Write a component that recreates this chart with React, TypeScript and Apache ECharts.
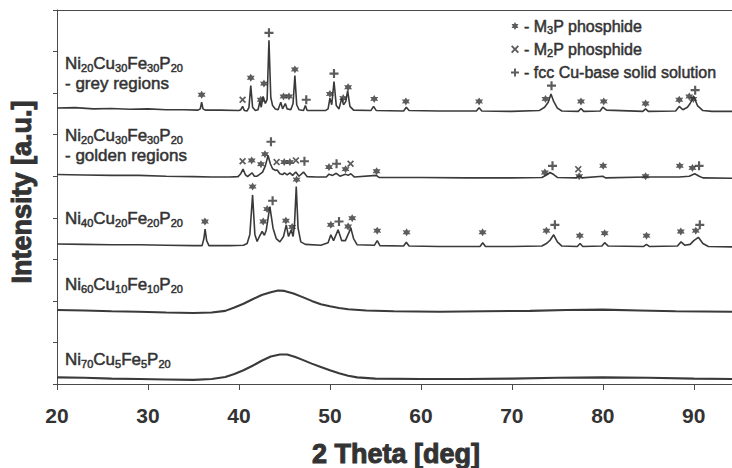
import React, { useEffect, useRef } from "react";
import * as echarts from "echarts";

// ---------- data (2θ in degrees, intensity in stacked a.u.) ----------
const xTickValues = [20, 30, 40, 50, 60, 70, 80, 90];

const greyTrace: number[][] = [
  [20, 6.64], [22, 6.65], [24, 6.62], [26, 6.63], [28, 6.61], [30, 6.62], [32, 6.6], [34, 6.6], [35.5, 6.59],
  [35.75, 6.62], [35.9, 6.78], [36.05, 6.62], [36.3, 6.59],
  [38, 6.59], [40, 6.58], [40.2, 6.6], [40.4, 6.68], [40.6, 6.58], [40.9, 6.57],
  [41.1, 6.65], [41.3, 7.18], [41.5, 6.66], [41.8, 6.58], [42.1, 6.6],
  [42.3, 6.8], [42.45, 6.66], [42.65, 6.92], [42.9, 6.75], [43.1, 6.85], [43.3, 8.27], [43.5, 6.9], [43.7, 6.7], [44.0, 6.62],
  [44.3, 6.6], [44.6, 6.78], [44.8, 6.62], [45.1, 6.75], [45.3, 6.62], [45.7, 6.6], [45.95, 6.75], [46.15, 7.42], [46.35, 6.72], [46.6, 6.6],
  [47.1, 6.58], [47.3, 6.7], [47.5, 6.58], [49.5, 6.58], [49.8, 6.62], [50.0, 6.88], [50.2, 6.72], [50.45, 7.28], [50.7, 6.7],
  [51.0, 6.62], [51.3, 6.88], [51.5, 6.72], [51.75, 6.8], [51.95, 7.06], [52.2, 6.68], [52.6, 6.59],
  [54.5, 6.58], [54.8, 6.68], [55.1, 6.58], [58.1, 6.57], [58.4, 6.66], [58.7, 6.58], [62, 6.57], [66.1, 6.57], [66.4, 6.65], [66.7, 6.57],
  [70, 6.56], [73, 6.58], [73.6, 6.66], [74.0, 6.78], [74.3, 6.98], [74.6, 6.8], [75.0, 6.64], [75.5, 6.57],
  [77.3, 6.56], [77.6, 6.63], [77.9, 6.56], [79.7, 6.57], [80.0, 6.66], [80.4, 6.59], [84.4, 6.56], [84.7, 6.62], [85, 6.56],
  [88, 6.57], [88.4, 6.68], [88.8, 6.6], [89.3, 6.66], [89.6, 6.75], [90.0, 6.92], [90.4, 6.7], [91, 6.58], [92, 6.56], [94.2, 6.56],
];

const goldenTrace: number[][] = [
  [20, 5.04], [23, 5.03], [26, 5.02], [29, 5.02], [32, 5.0], [35, 4.99], [37, 4.98], [39, 4.98], [39.9, 4.99],
  [40.2, 5.06], [40.45, 5.17], [40.7, 5.04], [40.95, 4.99], [41.2, 5.04], [41.45, 5.08], [41.7, 5.0], [42.0, 5.0],
  [42.3, 5.05], [42.6, 5.1], [42.9, 5.25], [43.2, 5.5], [43.45, 5.3], [43.7, 5.18], [44.0, 5.14], [44.2, 5.15],
  [44.5, 5.06], [44.8, 5.04], [45.0, 5.08], [45.3, 5.03], [45.6, 5.08], [45.9, 5.02], [46.25, 5.1], [46.6, 5.0],
  [47.1, 5.1], [47.5, 4.99], [48.5, 4.98], [49.6, 4.98], [49.9, 5.05], [50.3, 5.02], [50.7, 5.07], [51.1, 5.0],
  [51.7, 5.05], [52.0, 5.02], [52.3, 5.06], [52.7, 4.98], [55.1, 5.02], [55.4, 4.97], [60, 4.97], [65, 4.96],
  [70, 4.96], [73.3, 4.97], [73.8, 5.03], [74.2, 5.09], [74.6, 5.04], [75.0, 4.97], [77.1, 4.96], [77.4, 5.01],
  [77.7, 4.96], [80, 5.0], [80.3, 4.96], [84.7, 4.98], [88.4, 4.98], [89.5, 5.0], [90.1, 5.06], [90.6, 5.0],
  [91, 4.96], [94.2, 4.95],
];

const ni40Trace: number[][] = [
  [20, 3.37], [23, 3.36], [26, 3.35], [29, 3.35], [32, 3.34], [35, 3.33], [35.95, 3.33], [36.15, 3.5], [36.28, 3.73],
  [36.45, 3.45], [36.7, 3.33], [39, 3.33], [40.5, 3.34], [40.9, 3.38], [41.2, 3.6], [41.5, 4.55], [41.75, 3.6],
  [42.0, 3.43], [42.25, 3.55], [42.55, 3.67], [42.8, 3.58], [43.0, 3.7], [43.4, 4.27], [43.75, 3.75], [44.1, 3.5],
  [44.5, 3.42], [44.9, 3.55], [45.2, 3.83], [45.45, 3.55], [45.75, 3.71], [45.95, 3.55], [46.1, 3.8], [46.3, 4.75],
  [46.5, 3.75], [46.8, 3.42], [47.3, 3.36], [49.0, 3.34], [49.8, 3.4], [50.1, 3.59], [50.4, 3.45], [50.9, 3.71],
  [51.3, 3.45], [51.7, 3.45], [52.0, 3.6], [52.3, 3.75], [52.6, 3.5], [53.0, 3.35], [54.9, 3.34], [55.2, 3.45],
  [55.5, 3.33], [58.1, 3.32], [58.4, 3.41], [58.7, 3.32], [62, 3.31], [66.5, 3.31], [66.8, 3.4], [67.1, 3.31],
  [70, 3.31], [73.3, 3.32], [73.8, 3.38], [74.2, 3.46], [74.6, 3.59], [75.0, 3.42], [75.5, 3.32], [77.2, 3.31],
  [77.5, 3.38], [77.8, 3.31], [79.9, 3.32], [80.2, 3.4], [80.6, 3.32], [84.5, 3.31], [84.8, 3.36], [85.1, 3.31],
  [88.2, 3.32], [88.6, 3.42], [89.0, 3.34], [89.6, 3.36], [90.0, 3.45], [90.5, 3.53], [91.0, 3.38], [91.6, 3.31],
  [94.2, 3.3],
];

const ni60Trace: number[][] = [
  [20, 1.78], [23, 1.77], [26, 1.75], [29, 1.74], [32, 1.72], [35, 1.71], [37, 1.72], [38.5, 1.76], [39.5, 1.84],
  [40.5, 1.93], [41.5, 2.04], [42.5, 2.14], [43.5, 2.21], [44.3, 2.25], [45, 2.24], [46, 2.18], [47, 2.09],
  [48, 2.0], [49, 1.92], [50, 1.87], [51, 1.83], [52, 1.8], [54, 1.77], [57, 1.75], [62, 1.74], [67, 1.75],
  [72, 1.76], [76, 1.78], [80, 1.79], [84, 1.77], [88, 1.75], [94.2, 1.74],
];

const ni70Trace: number[][] = [
  [20, 0.16], [23, 0.15], [26, 0.13], [29, 0.12], [32, 0.11], [35, 0.1], [37, 0.12], [38.5, 0.17], [39.5, 0.24],
  [40.5, 0.33], [41.5, 0.44], [42.5, 0.56], [43.5, 0.66], [44.5, 0.71], [45.3, 0.71], [46.2, 0.65], [47, 0.58],
  [48, 0.49], [49, 0.41], [50, 0.33], [51, 0.26], [52, 0.2], [53, 0.16], [55, 0.13], [60, 0.12], [65, 0.12],
  [70, 0.13], [75, 0.15], [80, 0.16], [85, 0.15], [90, 0.13], [94.2, 0.12],
];

// phase markers: [2θ, height]
const m3pMarks: number[][] = [
  [35.9, 6.96], [41.3, 7.37], [42.4, 6.84], [42.75, 7.23], [44.9, 6.92], [45.5, 6.92], [46.15, 7.57], [50.0, 6.98],
  [51.46, 6.88], [52.0, 7.14], [54.87, 6.86], [58.35, 6.8], [66.4, 6.8], [73.7, 6.86], [77.6, 6.8], [80.1, 6.8],
  [84.7, 6.75], [88.4, 6.84], [89.5, 6.92], [89.95, 6.86],
  [41.4, 5.38], [42.42, 5.29], [42.86, 5.53], [44.98, 5.34], [45.6, 5.34], [49.9, 5.22], [51.72, 5.17], [55.13, 5.12],
  [73.63, 5.09], [77.4, 5.0], [80.04, 5.25], [84.7, 5.0], [88.46, 5.25], [89.85, 5.2],
  [36.26, 3.91], [41.5, 4.75], [42.67, 3.91], [43.1, 4.21], [45.16, 3.93], [45.85, 3.78], [46.34, 4.92], [50.1, 3.83],
  [52.0, 3.79], [52.45, 3.99], [55.2, 3.69], [58.43, 3.65], [66.78, 3.65], [73.8, 3.69], [77.47, 3.57], [80.2, 3.63],
  [84.8, 3.57], [88.57, 3.67], [90.22, 3.69],
];
const m2pMarks: number[][] = [
  [40.4, 6.84], [40.4, 5.36], [44.14, 5.34], [46.26, 5.38], [52.27, 5.3], [77.3, 5.17],
];
const fccMarks: number[][] = [
  [43.3, 8.45], [47.4, 6.84], [50.45, 7.47], [74.36, 7.18], [90.15, 7.07],
  [43.52, 5.83], [47.2, 5.36], [50.73, 5.3], [74.47, 5.25], [90.58, 5.25],
  [43.7, 4.41], [51.0, 3.91], [74.73, 3.83], [90.66, 3.83],
];

const traceNames = ["grey", "golden", "Ni40Cu20Fe20P20", "Ni60Cu10Fe10P20", "Ni70Cu5Fe5P20"];
const sampleLabels = [
  { formula: "Ni20Cu30Fe30P20", note: "- grey regions" },
  { formula: "Ni20Cu30Fe30P20", note: "- golden regions" },
  { formula: "Ni40Cu20Fe20P20", note: "" },
  { formula: "Ni60Cu10Fe10P20", note: "" },
  { formula: "Ni70Cu5Fe5P20", note: "" },
];
const phaseNames = ["M3P", "M2P", "fcc"];
const phaseLegend = ["{n|- M}{s|3}{n|P phosphide}", "{n|- M}{s|2}{n|P phosphide}", "{n|- fcc Cu-base solid solution}"];

// ---------- styling ----------
const FONT = "'Liberation Sans', Arial, sans-serif";
const INK = "#333333";
const STAR =
  "path://M0,-10 L2.8,-4.8 L8.66,-5 L5.6,0 L8.66,5 L2.8,4.8 L0,10 L-2.8,4.8 L-8.66,5 L-5.6,0 L-8.66,-5 L-2.8,-4.8 Z";
const PLUS = "path://M-1.2,-5 L1.2,-5 L1.2,-1.2 L5,-1.2 L5,1.2 L1.2,1.2 L1.2,5 L-1.2,5 L-1.2,1.2 L-5,1.2 L-5,-1.2 L-1.2,-1.2 Z";
const CROSS = "path://M-5,-3.3 L-3.3,-5 L0,-1.7 L3.3,-5 L5,-3.3 L1.7,0 L5,3.3 L3.3,5 L0,1.7 L-3.3,5 L-5,3.3 L-1.7,0 Z";

function toRich(formula: string): string {
  const parts = formula.match(/[A-Za-z]+|\d+/g) || [];
  return parts.map((p) => (/\d/.test(p) ? `{s|${p}}` : `{n|${p}}`)).join("");
}

// graphic (zrender) text uses stroke / lineWidth for a text outline
const labelRich = {
  n: { fontSize: 17, fontFamily: FONT, fill: INK, lineHeight: 20, stroke: INK, lineWidth: 0.5 },
  s: { fontSize: 11, fontFamily: FONT, fill: INK, lineHeight: 12, verticalAlign: "bottom", stroke: INK, lineWidth: 0.5 },
};
// legend (echarts label model) uses textBorder*
const legendHeavy = { textBorderColor: INK, textBorderWidth: 0.5 };

const labelY = [[63, 83], [135, 155], [218], [284], [359]];

export default function App() {
  const ref = useRef<HTMLDivElement>(null);
  useEffect(() => {
    const chart = echarts.init(ref.current!, null, { renderer: "svg" });
    const traces = [greyTrace, goldenTrace, ni40Trace, ni60Trace, ni70Trace];
    const widths = [1.6, 1.6, 1.6, 2.1, 2.1];

    const graphics: any[] = [];
    sampleLabels.forEach((lab, i) => {
      graphics.push({
        type: "text",
        x: 65,
        y: labelY[i][0],
        style: { text: toRich(lab.formula), rich: labelRich, verticalAlign: "middle", align: "left" },
      });
      if (lab.note) {
        graphics.push({
          type: "text",
          x: 65,
          y: labelY[i][1],
          style: {
            text: lab.note, fontSize: 17, fontFamily: FONT, fill: INK, verticalAlign: "middle", align: "left",
            stroke: INK, lineWidth: 0.5,
          },
        });
      }
    });
    graphics.push({
      type: "text",
      x: 396,
      y: 454,
      style: {
        text: "2 Theta [deg]", fontSize: 27, fontWeight: "bold", fontFamily: FONT, fill: INK,
        align: "center", verticalAlign: "middle", stroke: INK, lineWidth: 1,
      },
    });
    graphics.push({
      type: "text",
      x: 22,
      y: 192,
      rotation: Math.PI / 2,
      style: {
        text: "Intensity [a.u.]", fontSize: 27, fontWeight: "bold", fontFamily: FONT, fill: INK,
        align: "center", verticalAlign: "middle", stroke: INK, lineWidth: 1,
      },
    });

    const option: any = {
      animation: false,
      backgroundColor: "#ffffff",
      grid: { left: 57, right: 0, top: 10, bottom: 84 },
      xAxis: [
        {
          type: "value",
          min: 20,
          max: 94.2,
          interval: 10,
          axisLine: { lineStyle: { color: "#4a4a4a", width: 1 } },
          axisTick: { show: true, length: 6, lineStyle: { color: "#4a4a4a" }, customValues: xTickValues },
          axisLabel: {
            customValues: xTickValues,
            fontSize: 21,
            fontWeight: "bold",
            fontFamily: FONT,
            color: INK,
            margin: 21,
          },
          splitLine: { show: false },
        },
        {
          type: "value",
          position: "top",
          min: 20,
          max: 94.2,
          axisLine: { show: true, onZero: false, lineStyle: { color: "#4a4a4a", width: 1 } },
          axisTick: { show: false },
          axisLabel: { show: false },
          splitLine: { show: false },
        },
      ],
      yAxis: {
        type: "value",
        min: 0,
        max: 9,
        interval: 1,
        axisLine: { show: true, lineStyle: { color: "#4a4a4a", width: 1 } },
        axisTick: { show: true, length: 4, lineStyle: { color: "#4a4a4a" } },
        axisLabel: { show: false },
        splitLine: { show: false },
      },
      legend: {
        orient: "vertical",
        left: 506,
        top: 12,
        itemWidth: 8,
        itemHeight: 8,
        itemGap: 5,
        selectedMode: false,
        data: [
          { name: phaseNames[0], icon: STAR },
          { name: phaseNames[1], icon: CROSS },
          { name: phaseNames[2], icon: PLUS },
        ],
        formatter: (name: string) => phaseLegend[phaseNames.indexOf(name)],
        textStyle: {
          fontFamily: FONT,
          color: INK,
          fontSize: 16,
          lineHeight: 18,
          rich: {
            n: { fontSize: 16, fontFamily: FONT, color: INK, lineHeight: 18, ...legendHeavy },
            s: { fontSize: 11, fontFamily: FONT, color: INK, lineHeight: 11, verticalAlign: "bottom", ...legendHeavy },
          },
        },
      },
      graphic: graphics,
      series: [
        ...traces.map((d, i) => ({
          name: traceNames[i],
          type: "line",
          data: d,
          showSymbol: false,
          silent: true,
          lineStyle: { color: "#3a3a3a", width: widths[i] },
          z: 2,
        })),
        {
          name: phaseNames[0],
          type: "scatter",
          data: m3pMarks,
          symbol: STAR,
          symbolSize: 8,
          itemStyle: { color: "#333333" },
          silent: true,
          z: 3,
        },
        {
          name: phaseNames[1],
          type: "scatter",
          data: m2pMarks,
          symbol: CROSS,
          symbolSize: 7,
          itemStyle: { color: "#333333" },
          silent: true,
          z: 3,
        },
        {
          name: phaseNames[2],
          type: "scatter",
          data: fccMarks,
          symbol: PLUS,
          symbolSize: 9,
          itemStyle: { color: "#333333" },
          silent: true,
          z: 3,
        },
      ],
    };
    chart.setOption(option);
    return () => chart.dispose();
  }, []);
  return <div ref={ref} style={{ position: "fixed", left: 0, top: 0, width: 732, height: 468 }} />;
}
